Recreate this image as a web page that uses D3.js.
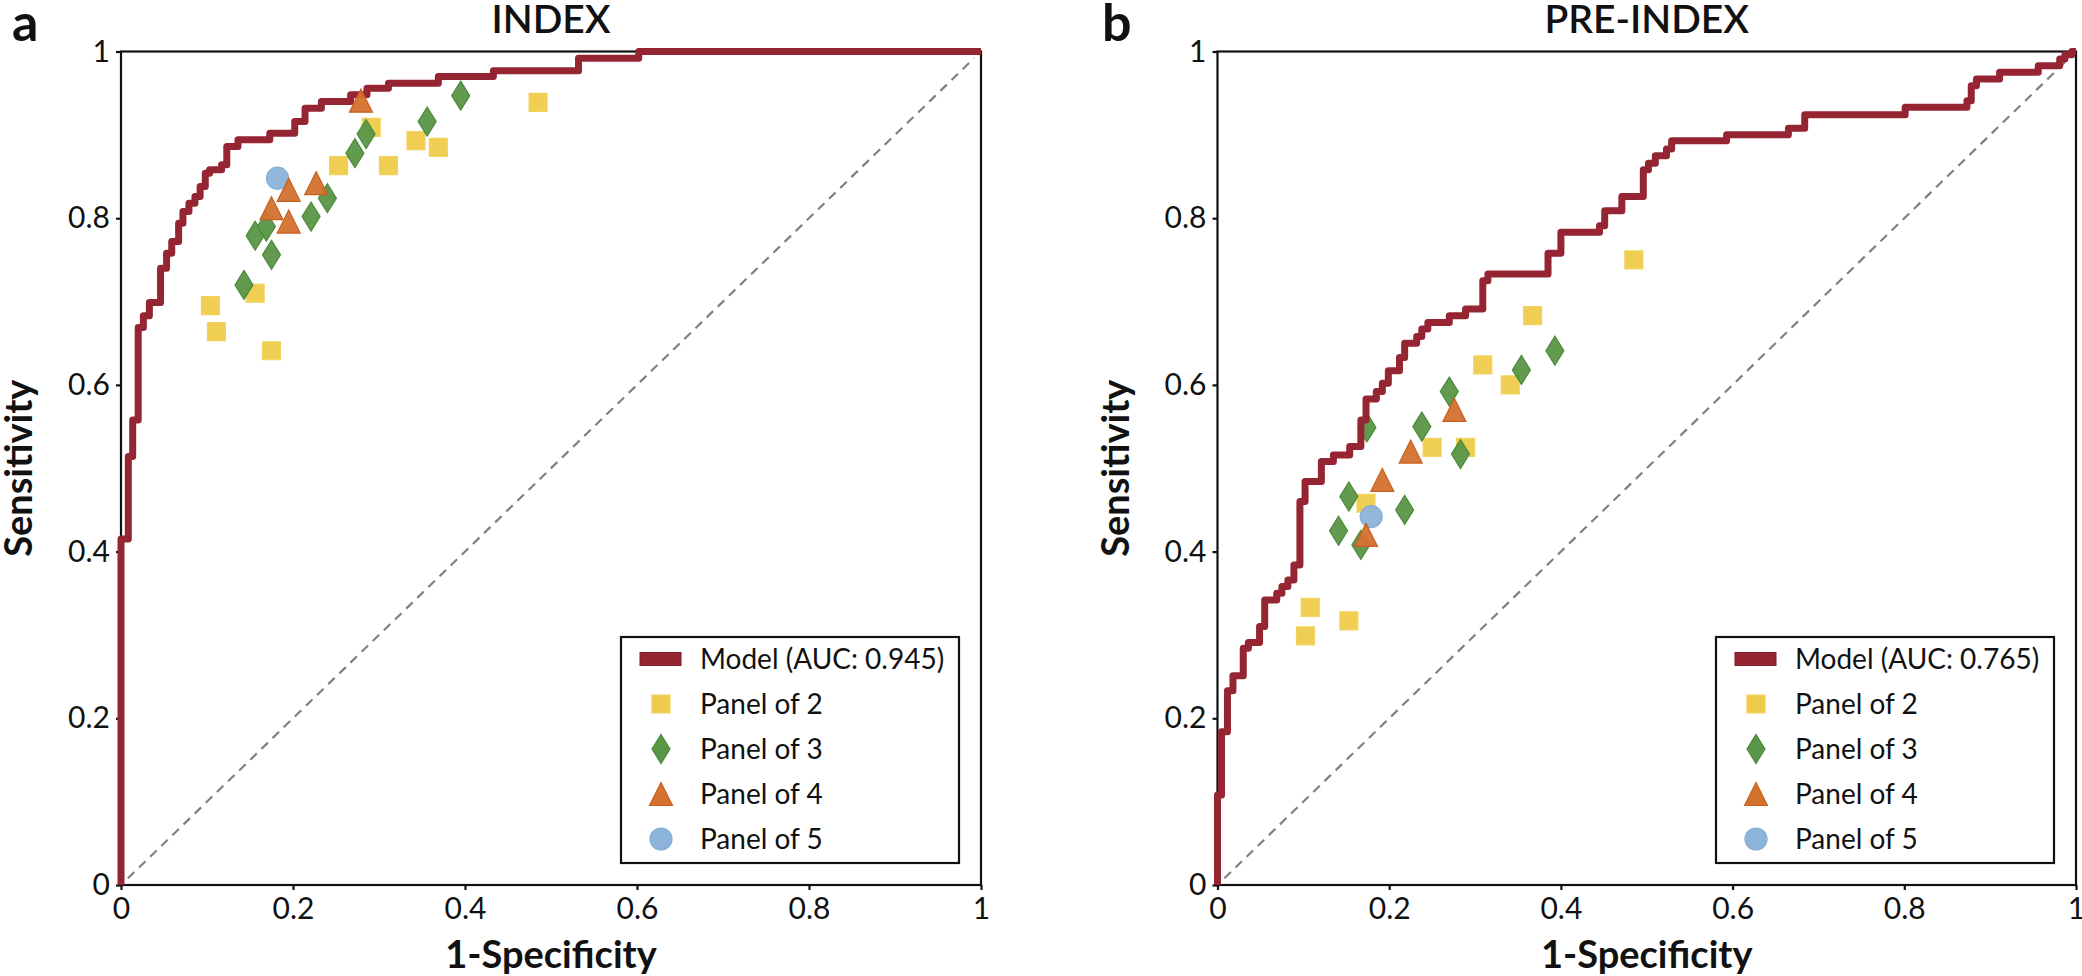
<!DOCTYPE html>
<html>
<head>
<meta charset="utf-8">
<script src="https://cdn.jsdelivr.net/npm/d3@7"></script>
<style>
  html, body { margin: 0; padding: 0; background: #fff; }
  svg { display: block; font-family: Lato, "Open Sans", sans-serif; }
</style>
</head>
<body>
<svg id="chart" width="2082" height="976"></svg>
<script>
// ---- data ----
var tickValues = [0, 0.2, 0.4, 0.6, 0.8, 1];
var tickLabels = ["0", "0.2", "0.4", "0.6", "0.8", "1"];

var panelTitles = ["INDEX", "PRE-INDEX"];
var panelLetters = ["a", "b"];
var modelLabels = ["Model (AUC: 0.945)", "Model (AUC: 0.765)"];
var seriesLabels = ["Panel of 2", "Panel of 3", "Panel of 4", "Panel of 5"];

// ROC staircase vertices: [1-specificity, sensitivity at top of each rise]
var indexModel = [
  [0, 0], [0, 0.415], [0.0085, 0.514], [0.0136, 0.558], [0.020, 0.669],
  [0.026, 0.683], [0.033, 0.699], [0.046, 0.740], [0.053, 0.758], [0.059, 0.772],
  [0.067, 0.794], [0.072, 0.808], [0.079, 0.818], [0.086, 0.826], [0.092, 0.838],
  [0.098, 0.854], [0.103, 0.858], [0.117, 0.864], [0.123, 0.886], [0.136, 0.894],
  [0.173, 0.902], [0.202, 0.916], [0.214, 0.932], [0.233, 0.940], [0.267, 0.948],
  [0.286, 0.956], [0.311, 0.962], [0.369, 0.970], [0.433, 0.977], [0.532, 0.992],
  [0.602, 1.0], [1.0, 1.0]
];
var preIndexModel = [
  [0, 0], [0, 0.108], [0.0047, 0.184], [0.0116, 0.233], [0.018, 0.251],
  [0.030, 0.284], [0.036, 0.291], [0.049, 0.310], [0.055, 0.342], [0.069, 0.350],
  [0.075, 0.358], [0.082, 0.366], [0.089, 0.384], [0.096, 0.460], [0.102, 0.484],
  [0.121, 0.508], [0.135, 0.516], [0.154, 0.526], [0.167, 0.558], [0.173, 0.583],
  [0.185, 0.592], [0.192, 0.602], [0.199, 0.617], [0.212, 0.633], [0.218, 0.650],
  [0.232, 0.658], [0.238, 0.667], [0.245, 0.675], [0.270, 0.683], [0.289, 0.691],
  [0.309, 0.725], [0.315, 0.733], [0.385, 0.758], [0.400, 0.783], [0.445, 0.791],
  [0.451, 0.809], [0.471, 0.826], [0.496, 0.858], [0.502, 0.866], [0.510, 0.875],
  [0.523, 0.883], [0.529, 0.893], [0.593, 0.900], [0.665, 0.908], [0.684, 0.924],
  [0.801, 0.933], [0.873, 0.941], [0.878, 0.959], [0.884, 0.967], [0.911, 0.975],
  [0.956, 0.983], [0.981, 0.991], [0.987, 0.996], [0.995, 1.0], [1, 1]
];

var indexPanel2 = [[0.104, 0.695], [0.111, 0.664], [0.175, 0.641], [0.156, 0.710], [0.253, 0.863],
  [0.311, 0.863], [0.291, 0.909], [0.343, 0.893], [0.369, 0.885], [0.485, 0.939]];
var indexPanel3 = [[0.143, 0.720], [0.156, 0.779], [0.169, 0.790], [0.175, 0.756], [0.221, 0.802],
  [0.240, 0.824], [0.272, 0.878], [0.285, 0.901], [0.356, 0.916], [0.395, 0.947]];
var indexPanel4 = [[0.279, 0.941], [0.195, 0.834], [0.227, 0.842], [0.175, 0.812], [0.195, 0.796]];
var indexPanel5 = [[0.182, 0.848]];

var prePanel2 = [[0.485, 0.750], [0.367, 0.683], [0.309, 0.624], [0.341, 0.600], [0.250, 0.525],
  [0.289, 0.525], [0.173, 0.458], [0.108, 0.333], [0.1025, 0.299], [0.153, 0.317]];
var prePanel3 = [[0.174, 0.549], [0.153, 0.466], [0.141, 0.425], [0.167, 0.408], [0.218, 0.450],
  [0.238, 0.550], [0.270, 0.592], [0.283, 0.517], [0.354, 0.618], [0.393, 0.641]];
var prePanel4 = [[0.276, 0.570], [0.225, 0.520], [0.192, 0.486], [0.173, 0.420]];
var prePanel5 = [[0.179, 0.442]];

// ---- styling ----
var modelColor = "#962533";
var markerFill = ["#efcb4b", "#5a9647", "#d4712f", "#8cb3d9"];
var markerStroke = ["#f2d35f", "#4a8a39", "#c8611f", "#86aed6"];
var markerPath = [
  "M-9,-9H9V9H-9Z",
  "M0,-14.5L9,0L0,14.5L-9,0Z",
  "M0,-11.5L11.5,11.5L-11.5,11.5Z",
  "M11,0A11,11 0 1,1 -11,0A11,11 0 1,1 11,0Z"
];

var svg = d3.select("#chart");

function drawPanel(p) {
  var x = d3.scaleLinear().domain([0, 1]).range([p.left, p.right]);
  var y = d3.scaleLinear().domain([0, 1]).range([885, 51.5]);
  var g = svg.append("g");

  // diagonal chance line
  g.append("line")
    .attr("x1", x(0.008)).attr("y1", y(0.008))
    .attr("x2", x(0.992)).attr("y2", y(0.992))
    .attr("stroke", "#808080").attr("stroke-width", 2.2)
    .attr("stroke-dasharray", "9,6.5");

  // frame
  g.append("rect")
    .attr("x", x(0)).attr("y", y(1))
    .attr("width", x(1) - x(0)).attr("height", y(0) - y(1))
    .attr("fill", "none").attr("stroke", "#111").attr("stroke-width", 2.2);

  var xAxis = g.append("g")
    .attr("transform", "translate(0," + y(0) + ")")
    .call(d3.axisBottom(x).tickValues(tickValues)
      .tickFormat(function (d, i) { return tickLabels[i]; })
      .tickSize(5).tickPadding(8));
  var yAxis = g.append("g")
    .attr("transform", "translate(" + x(0) + ",0)")
    .call(d3.axisLeft(y).tickValues(tickValues)
      .tickFormat(function (d, i) { return tickLabels[i]; })
      .tickSize(5).tickPadding(6));
  [xAxis, yAxis].forEach(function (a) {
    a.select(".domain").remove();
    a.selectAll("line").attr("stroke", "#111").attr("stroke-width", 2.2);
    a.selectAll("text").attr("font-family", "Lato").attr("font-size", 30).attr("fill", "#111");
  });

  // scatter panels under the curve
  function drawMarkers(data, k) {
    g.selectAll(".m" + k)
      .data(data)
      .enter()
      .append("path")
      .attr("class", "m" + k)
      .attr("d", markerPath[k])
      .attr("transform", function (d) { return "translate(" + x(d[0]) + "," + y(d[1]) + ")"; })
      .attr("fill", markerFill[k])
      .attr("fill-opacity", 0.95)
      .attr("stroke", markerStroke[k])
      .attr("stroke-width", 1.2);
  }
  drawMarkers(p.series[0], 0);
  drawMarkers(p.series[1], 1);

  var line = d3.line()
    .x(function (d) { return x(d[0]); })
    .y(function (d) { return y(d[1]); })
    .curve(d3.curveStepAfter);
  g.append("path")
    .datum(p.model)
    .attr("d", line)
    .attr("fill", "none")
    .attr("stroke", modelColor)
    .attr("stroke-width", 7)
    .attr("stroke-linejoin", "round");

  drawMarkers(p.series[3], 3);
  drawMarkers(p.series[2], 2);

  // titles
  g.append("text")
    .attr("x", (x(0) + x(1)) / 2).attr("y", 33)
    .attr("text-anchor", "middle")
    .attr("font-size", 39).attr("font-weight", 600).attr("fill", "#111")
    .text(p.title);
  g.append("text")
    .attr("x", p.letterX).attr("y", 41)
    .attr("font-size", 52).attr("font-weight", "bold").attr("fill", "#111")
    .text(p.letter);
  g.append("text")
    .attr("x", (x(0) + x(1)) / 2).attr("y", 968)
    .attr("text-anchor", "middle")
    .attr("font-size", 38).attr("font-weight", "bold").attr("fill", "#111")
    .text("1-Specificity");
  g.append("text")
    .attr("transform", "translate(" + (x(0) - 89) + "," + (y(0.5)) + ") rotate(-90)")
    .attr("text-anchor", "middle")
    .attr("font-size", 38).attr("font-weight", "bold").attr("fill", "#111")
    .text("Sensitivity");

  // legend
  var lx = x(1) - 360, ly = 637;
  var leg = g.append("g").attr("transform", "translate(" + lx + "," + ly + ")");
  leg.append("rect")
    .attr("width", 338).attr("height", 226)
    .attr("fill", "#fff").attr("stroke", "#111").attr("stroke-width", 2.2);
  var rows = [p.modelLabel].concat(seriesLabels);
  rows.forEach(function (label, i) {
    var cy = 22 + i * 45;
    if (i === 0) {
      leg.append("rect")
        .attr("x", 19).attr("y", cy - 6.5).attr("width", 41).attr("height", 13)
        .attr("fill", modelColor).attr("stroke", "#7e1c28").attr("stroke-width", 1);
    } else {
      leg.append("path")
        .attr("d", markerPath[i - 1])
        .attr("transform", "translate(40," + cy + ")")
        .attr("fill", markerFill[i - 1])
        .attr("stroke", markerStroke[i - 1]).attr("stroke-width", 1.2);
    }
    leg.append("text")
      .attr("x", 79).attr("y", cy).attr("dy", "0.36em")
      .attr("font-size", 28).attr("fill", "#111")
      .text(label);
  });
}

drawPanel({
  left: 121, right: 981, title: panelTitles[0], letter: panelLetters[0], letterX: 12,
  model: indexModel, modelLabel: modelLabels[0],
  series: [indexPanel2, indexPanel3, indexPanel4, indexPanel5]
});
drawPanel({
  left: 1217.5, right: 2076, title: panelTitles[1], letter: panelLetters[1], letterX: 1102,
  model: preIndexModel, modelLabel: modelLabels[1],
  series: [prePanel2, prePanel3, prePanel4, prePanel5]
});
</script>
</body>
</html>
